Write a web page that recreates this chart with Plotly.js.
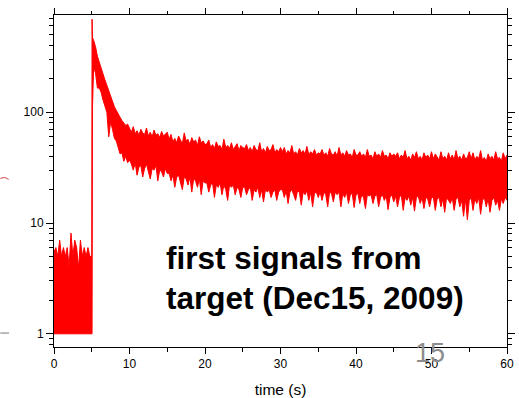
<!DOCTYPE html>
<html>
<head>
<meta charset="utf-8">
<script src="https://cdn.plot.ly/plotly-3.0.1.min.js"></script>
<style>
  html, body { margin: 0; padding: 0; background: #ffffff; }
  #chart { width: 519px; height: 398px; }
</style>
</head>
<body>
<div id="chart"></div>
<script>
// ---- data (time in s, signal counts) ----
// baseline before beam (0 - 5 s)
var timeBase  = [0,0.25,0.5,0.75,1,1.25,1.5,1.75,2,2.25,2.5,2.75,3,3.25,3.5,3.75,4,4.25,4.5,4.75,5.0];
var upperBase = [5.5,6,5,7,5,6,5,6,4,8.1,5,7,6,3.9,7,5,6,5,6,5,5];
var lowerBase = [1,1,1,1,1,1,1,1,1,1,1,1,1,1,1,1,1,1,1,1,1];

// rising edge
var timeRise  = [5.04, 5.1];
var upperRise = [690, 470];
var lowerRise = [1, 112];

// fast decay 5.25 - 10 s
var timeDecay  = [5.25,5.5,5.75,6,6.25,6.5,6.75,7,7.25,7.5,7.75,8,8.25,8.5,8.75,9,9.25,9.5,9.75,10];
var upperDecay = [445,390,320,280,250,225,195,175,155,140,125,112,104,95,90,84,80,76,78,72];
var lowerDecay = [256,225,165,165,150,128,115,100,60,82,70,58,55,47,42,43,36,40,35,37];

// slow tail 10.25 - 60 s
var timeTail = [
  10.25,10.5,10.75,11,11.25,11.5,11.75,12,12.25,12.5,12.75,13,13.25,13.5,13.75,14,14.25,14.5,14.75,15,
  15.25,15.5,15.75,16,16.25,16.5,16.75,17,17.25,17.5,17.75,18,18.25,18.5,18.75,19,19.25,19.5,19.75,20,
  20.25,20.5,20.75,21,21.25,21.5,21.75,22,22.25,22.5,22.75,23,23.25,23.5,23.75,24,24.25,24.5,24.75,25,
  25.25,25.5,25.75,26,26.25,26.5,26.75,27,27.25,27.5,27.75,28,28.25,28.5,28.75,29,29.25,29.5,29.75,30,
  30.25,30.5,30.75,31,31.25,31.5,31.75,32,32.25,32.5,32.75,33,33.25,33.5,33.75,34,34.25,34.5,34.75,35,
  35.25,35.5,35.75,36,36.25,36.5,36.75,37,37.25,37.5,37.75,38,38.25,38.5,38.75,39,39.25,39.5,39.75,40,
  40.25,40.5,40.75,41,41.25,41.5,41.75,42,42.25,42.5,42.75,43,43.25,43.5,43.75,44,44.25,44.5,44.75,45,
  45.25,45.5,45.75,46,46.25,46.5,46.75,47,47.25,47.5,47.75,48,48.25,48.5,48.75,49,49.25,49.5,49.75,50,
  50.25,50.5,50.75,51,51.25,51.5,51.75,52,52.25,52.5,52.75,53,53.25,53.5,53.75,54,54.25,54.5,54.75,55,
  55.25,55.5,55.75,56,56.25,56.5,56.75,57,57.25,57.5,57.75,58,58.25,58.5,58.75,59,59.25,59.5,59.75,60
];
var upperTail = [
  66,74,64,68,62,70,65,63,72,61,66,60,69,62,64,59,67,61,63,66,
  57,63,54,58,53,61,56,52,65,55,57,51,59,54,56,50,60,53,55,51,
  52,56,48,51,47,54,49,50,46,57,48,50,47,53,46,49,52,45,50,48,
  47,51,45,48,44,50,46,45,53,44,47,43,49,45,46,51,43,46,44,48,
  44,48,42,45,43,50,42,44,41,47,43,45,42,49,41,44,42,46,41,43,
  42,46,41,43,40,47,42,41,44,40,48,41,43,40,45,41,42,39,46,41,
  41,44,40,42,39,46,40,41,38,44,40,42,39,45,40,41,38,43,40,42,
  40,43,38,41,39,45,38,40,37,42,39,44,38,40,37,43,39,41,38,44,
  38,42,39,37,44,38,40,37,43,38,41,37,45,38,40,37,42,38,39,44,
  38,43,37,40,38,45,37,39,36,42,38,40,37,44,38,39,36,43,38,41
];
var lowerTail = [
  34,30,35,27,32,33,26,31,34,29,25,31,30,33,24,30,29,26,31,28,
  28,24,27,21,26,27,23,20,26,25,22,26,19,25,24,21,25,18,24,23,
  23,19,22,23,17,22,21,23,18,22,20,16,22,21,22,18,21,20,17,21,
  21,18,20,21,16,20,19,21,17,20,15.5,20,19,20,17,19,20,16,19,20,
  20,17,19.5,15,19,20,18,16,19.5,19,14.5,19,18,19.5,16,19,14,18.5,19,17,
  19,16,19,18,14,19,18.5,15.5,19,18,19,14,18.5,17,19,15,18,18.5,13.8,18,
  18.5,15,18,17,13.5,18,17.5,18,15,17.5,18,14,17,18,16,17.5,13.2,17,18,15.5,
  17.5,14,17,18,13,17,16,17.5,14.5,17,12.8,17,17.5,15,17,13.5,17,16.5,14,17,
  17,13,16.5,17,14,16.5,12.5,17,16,15,17,13,16.5,17,14,16,11.5,16.5,10.7,16,
  17,13,16.5,15,17,12,16,17,14,16.5,12.5,16,17,14.5,16,13,16.5,15,17,16
];

// axis tick labels
var xTickVals = [0,10,20,30,40,50,60];
var yTickVals = [1,10,100];
var yTickText = ['1','10','100'];
var yMinorVals = [0.8,0.9,2,3,4,5,6,7,8,9,20,30,40,50,60,70,80,90,200,300,400,500,600,700];

var timeAll  = timeBase.concat(timeRise, timeDecay, timeTail);
var upperAll = upperBase.concat(upperRise, upperDecay, upperTail);
var lowerAll = lowerBase.concat(lowerRise, lowerDecay, lowerTail);

var RED = '#ff0000';
var FONT = 'Liberation Sans, Arial, Helvetica, sans-serif';

var traces = [
  { x: timeAll, y: lowerAll, type: 'scatter', mode: 'lines',
    line: { color: RED, width: 1 }, hoverinfo: 'skip', showlegend: false },
  { x: timeAll, y: upperAll, type: 'scatter', mode: 'lines',
    line: { color: RED, width: 1 }, fill: 'tonexty', fillcolor: RED,
    hoverinfo: 'skip', showlegend: false }
];

var layout = {
  width: 519, height: 398,
  margin: { l: 54, r: 12, t: 15, b: 51, pad: 0 },
  paper_bgcolor: '#ffffff', plot_bgcolor: '#ffffff',
  font: { family: FONT, color: '#000000', size: 12 },
  showlegend: false,
  xaxis: {
    range: [0, 60], tickmode: 'array', tickvals: xTickVals,
    ticks: 'outside', ticklen: 6, tickwidth: 1, tickcolor: '#000',
    showline: true, linecolor: '#000', linewidth: 1, mirror: 'allticks',
    showgrid: false, zeroline: false,
    tickfont: { family: FONT, size: 12, color: '#000' },
    minor: { dtick: 5, tick0: 0, ticks: 'outside', ticklen: 3.5, tickcolor: '#000', showgrid: false },
    title: { text: 'time (s)', font: { family: FONT, size: 15.5, color: '#000' }, standoff: 14 },
    automargin: false
  },
  yaxis: {
    type: 'log', range: [-0.119, 2.877],
    tickmode: 'array', tickvals: yTickVals, ticktext: yTickText,
    ticks: 'outside', ticklen: 7, tickwidth: 1, tickcolor: '#000',
    showline: true, linecolor: '#000', linewidth: 1, mirror: 'allticks',
    showgrid: false, zeroline: false,
    tickfont: { family: FONT, size: 12, color: '#000' },
    minor: { tickmode: 'array', tickvals: yMinorVals, ticks: 'outside', ticklen: 4, tickcolor: '#000', showgrid: false },
    automargin: false
  },
  annotations: [
    { xref: 'paper', yref: 'paper', x: 0.2435, y: 0.2685, xanchor: 'left', yanchor: 'middle',
      text: '<b>first signals from</b>', showarrow: false,
      font: { family: FONT, size: 31.5, color: '#000' } },
    { xref: 'paper', yref: 'paper', x: 0.2435, y: 0.148, xanchor: 'left', yanchor: 'middle',
      text: '<b>target (Dec15, 2009)</b>', showarrow: false,
      font: { family: FONT, size: 31.5, color: '#000' } },
    { xref: 'paper', yref: 'paper', x: 0.8307, y: -0.0171, xanchor: 'center', yanchor: 'middle',
      text: '15', showarrow: false,
      font: { family: FONT, size: 27, color: '#8c8c8c' } }
  ],
  shapes: [
    { type: 'line', xref: 'paper', yref: 'paper', x0: -0.1185, x1: -0.099, y0: 0.042, y1: 0.042,
      line: { color: '#777', width: 1 } },
    { type: 'path', xref: 'paper', yref: 'paper',
      path: 'M -0.1185 0.508 Q -0.108 0.515 -0.1 0.505',
      line: { color: '#cc4444', width: 1 } }
  ]
};

Plotly.newPlot('chart', traces, layout, { staticPlot: true, displayModeBar: false });
</script>
</body>
</html>
